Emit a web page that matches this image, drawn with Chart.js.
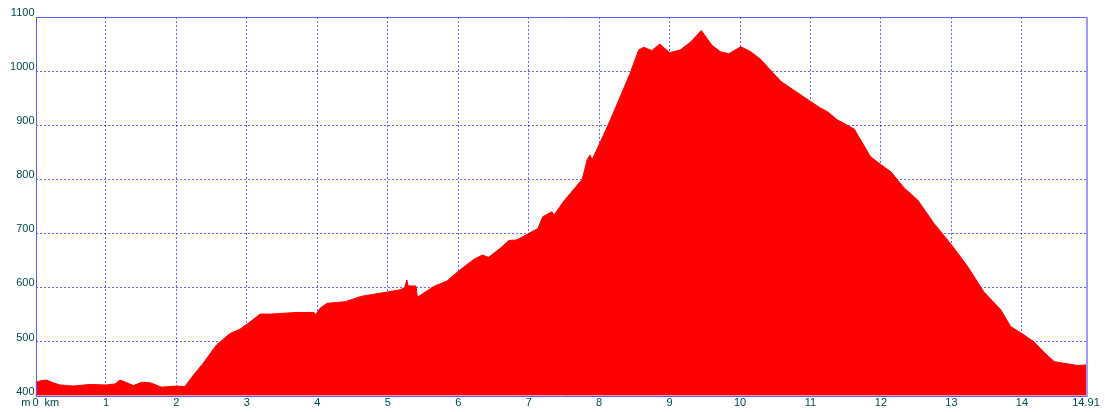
<!DOCTYPE html>
<html>
<head>
<meta charset="utf-8">
<script src="https://cdn.jsdelivr.net/npm/chart.js@4/dist/chart.umd.min.js"></script>
<style>
  html, body { margin: 0; padding: 0; background: #ffffff; }
  #wrap { position: relative; width: 1105px; height: 412px; }
</style>
</head>
<body>
<div id="wrap"><canvas id="c" width="1105" height="412"></canvas></div>
<script>
// Distance along the route (km)
const distanceKm = [
  0, 0.08, 0.16, 0.25, 0.35, 0.54, 0.77, 1.0, 1.13, 1.2, 1.28, 1.39, 1.51, 1.63, 1.79,
  2.0, 2.12, 2.24, 2.38, 2.57, 2.76, 2.9, 3.0, 3.19, 3.33, 3.71, 3.95, 3.98, 4.04, 4.14,
  4.4, 4.63, 5.0, 5.18, 5.24, 5.27, 5.29, 5.40, 5.42, 5.65, 5.84, 6.0, 6.22, 6.34, 6.43,
  6.6, 6.72, 6.83, 7.0, 7.13, 7.2, 7.33, 7.36, 7.5, 7.59, 7.76, 7.83, 7.87, 7.9, 8.01,
  8.16, 8.3, 8.44, 8.56, 8.63, 8.75, 8.86, 9.0, 9.15, 9.3, 9.45, 9.6, 9.72, 9.84, 10.01,
  10.15, 10.29, 10.43, 10.58, 10.76, 11.0, 11.14, 11.24, 11.38, 11.62, 11.85, 12.0, 12.14,
  12.33, 12.52, 12.75, 13.0, 13.23, 13.46, 13.7, 13.84, 14.0, 14.17, 14.31, 14.46, 14.65,
  14.79, 14.91
];
// Elevation (m)
const elevationM = [
  425, 428, 429, 424, 420, 418, 421, 420, 422, 429, 425, 419, 425, 424, 416,
  418, 417, 438, 460, 494, 515, 523, 532, 551, 551, 554, 554, 550, 562, 571,
  574, 584, 592, 596, 600, 614, 603, 603, 582, 602, 612, 630, 652, 660, 656,
  673, 687, 688, 700, 709, 731, 740, 734, 760, 774, 800, 836, 845, 836, 867,
  910, 953, 996, 1039, 1044, 1038, 1050, 1034, 1039, 1054, 1075, 1048, 1036, 1032, 1045,
  1036, 1022, 1002, 981, 965, 944, 932, 925, 910, 893, 842, 827, 814,
  784, 762, 719, 679, 639, 592, 559, 528, 515, 500, 481, 463, 459,
  456, 457
];
// Tick labels
const xTicks = [0,1,2,3,4,5,6,7,8,9,10,11,12,13,14,14.91];
const yTicks = [400,500,600,700,800,900,1000,1100];

const labelColor = '#004848';
const gridColor = 'rgba(0,0,255,0.6)';

const frame = {
  id: 'frame',
  afterDraw(chart) {
    const a = chart.chartArea, ctx = chart.ctx;
    ctx.save();
    ctx.strokeStyle = '#5a5aff';
    ctx.lineWidth = 1;
    ctx.beginPath();
    ctx.moveTo(Math.round(a.left) + 0.5, Math.round(a.bottom) + 0.5);
    ctx.lineTo(Math.round(a.left) + 0.5, Math.round(a.top) + 0.5);
    ctx.lineTo(Math.round(a.right) + 0.5, Math.round(a.top) + 0.5);
    ctx.stroke();
    ctx.beginPath();
    ctx.moveTo(Math.round(a.left), Math.round(a.bottom) + 0.5);
    ctx.lineTo(Math.round(a.right) + 1, Math.round(a.bottom) + 0.5);
    ctx.stroke();
    ctx.strokeStyle = '#9c9cff';
    ctx.lineWidth = 2;
    ctx.beginPath();
    ctx.moveTo(Math.round(a.right) + 1, Math.round(a.top));
    ctx.lineTo(Math.round(a.right) + 1, Math.round(a.bottom) + 1);
    ctx.stroke();
    // unit labels around the zero tick, aligned with the x tick labels
    const xs = chart.scales.x;
    const item = xs._labelItems && xs._labelItems[0];
    ctx.fillStyle = labelColor;
    ctx.font = '11px "Liberation Sans", Arial, sans-serif';
    const x0 = xs.getPixelForValue(0);
    let ty = a.bottom + 1;
    if (item) {
      ctx.textBaseline = item.options.textBaseline;
      ty = item.options.translation[1] + (item.textOffset || 0);
    } else {
      ctx.textBaseline = 'top';
    }
    ctx.textAlign = 'right';
    ctx.fillText('m', x0 - 5, ty);
    ctx.textAlign = 'left';
    ctx.fillText('km', x0 + 9, ty);
    ctx.restore();
  }
};

new Chart(document.getElementById('c'), {
  type: 'line',
  data: {
    datasets: [{
      data: distanceKm.map((d, i) => ({ x: d, y: elevationM[i] })),
      fill: 'start',
      backgroundColor: '#ff0000',
      borderColor: '#ff0000',
      borderWidth: 1,
      pointRadius: 0,
      tension: 0
    }]
  },
  options: {
    responsive: false,
    animation: false,
    events: [],
    layout: { padding: { top: 17, right: 19, left: 0, bottom: 0 } },
    plugins: { legend: { display: false }, tooltip: { enabled: false } },
    scales: {
      x: {
        type: 'linear',
        min: 0,
        max: 14.91,
        z: 1,
        afterBuildTicks(scale) { scale.ticks = xTicks.map(v => ({ value: v })); },
        afterFit(scale) { scale.height = 16.2; },
        border: { display: false, dash: [2, 2] },
        grid: {
          color: (ctx) => (ctx.tick && (ctx.tick.value === 0 || ctx.tick.value === 14.91)) ? 'rgba(0,0,0,0)' : gridColor,
          lineWidth: 1,
          drawTicks: false
        },
        ticks: {
          autoSkip: false,
          maxRotation: 0,
          padding: 1,
          color: labelColor,
          font: { family: '"Liberation Sans", Arial, sans-serif', size: 11 },
          callback: (v) => String(v)
        }
      },
      y: {
        type: 'linear',
        min: 400,
        max: 1100,
        z: 1,
        afterBuildTicks(scale) { scale.ticks = yTicks.map(v => ({ value: v })); },
        afterFit(scale) { scale.width = 35.5; },
        border: { display: false, dash: [2, 2] },
        grid: {
          color: (ctx) => (ctx.tick && (ctx.tick.value === 400 || ctx.tick.value === 1100)) ? 'rgba(0,0,0,0)' : gridColor,
          lineWidth: 1,
          drawTicks: false
        },
        ticks: {
          padding: 1,
          color: labelColor,
          font: { family: '"Liberation Sans", Arial, sans-serif', size: 11, lineHeight: 0.76 },
          callback: (v) => [String(v), '']
        }
      }
    }
  },
  plugins: [frame]
});
</script>
</body>
</html>
